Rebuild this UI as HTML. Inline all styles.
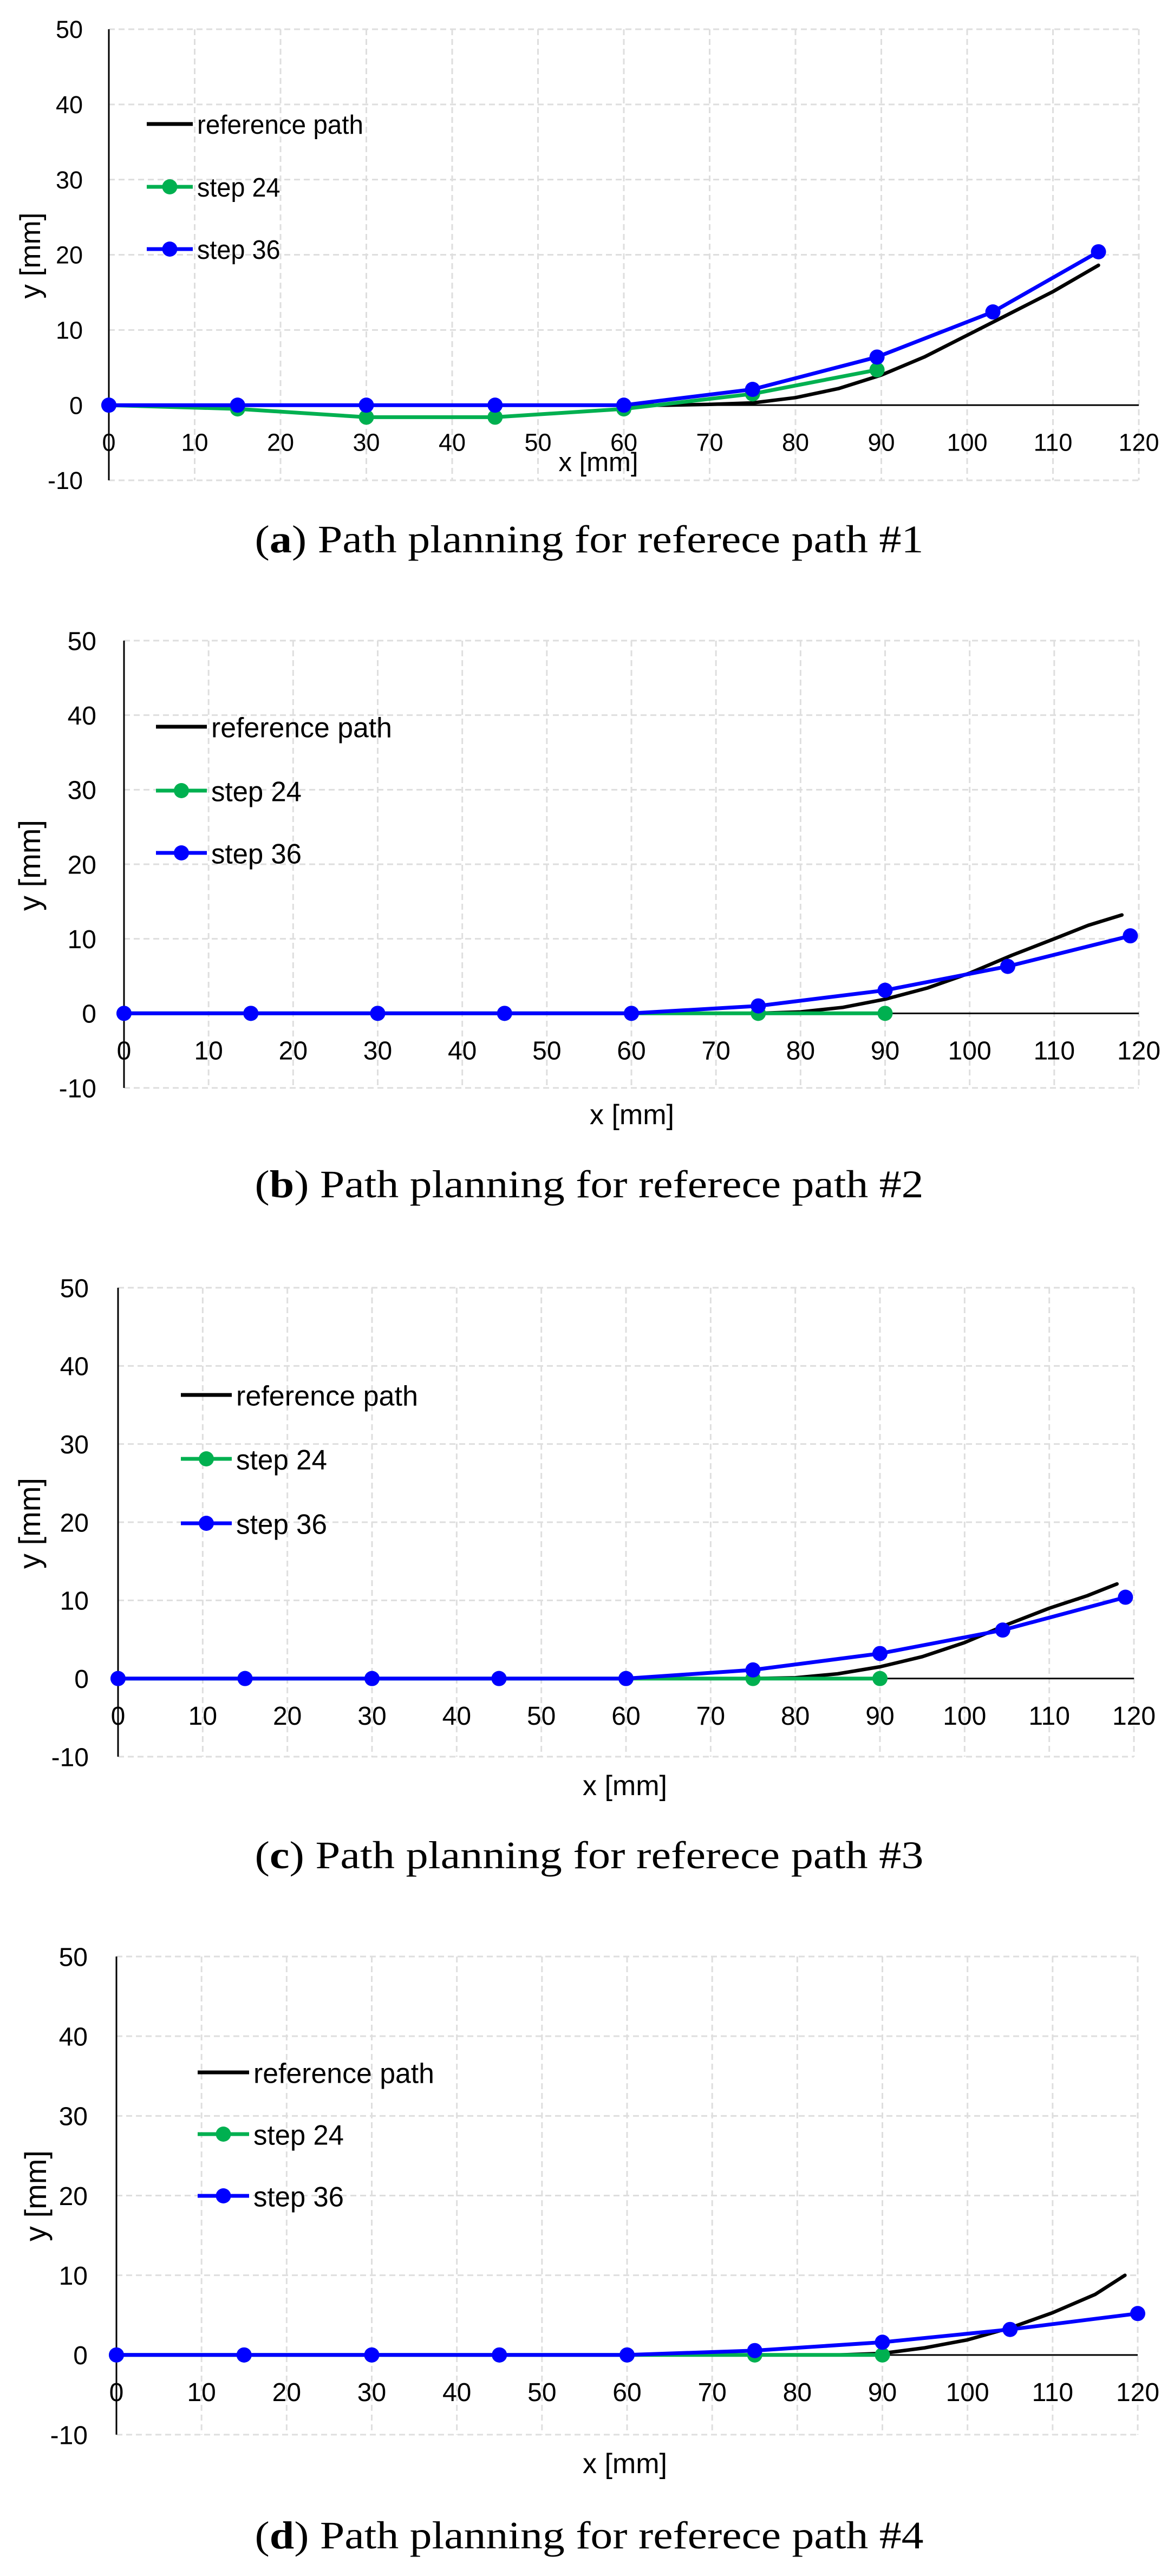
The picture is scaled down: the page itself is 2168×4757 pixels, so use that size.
<!DOCTYPE html>
<html><head><meta charset="utf-8"><style>
html,body{margin:0;padding:0;background:#fff;}
svg{display:block;}
</style></head><body>
<svg id="fig" xmlns="http://www.w3.org/2000/svg" width="2168" height="4757" viewBox="0 0 2168 4757">
<rect x="0" y="0" width="2168" height="4757" fill="#fff"/>
</svg>
<script>
// ---------- data ----------
const xTicks = [0,10,20,30,40,50,60,70,80,90,100,110,120];
const yTicks = [-10,0,10,20,30,40,50];
const seriesNames = ["reference path","step 24","step 36"];
const captionLetters = ["a","b","c","d"];
const captionTexts = [" Path planning for referece path #1"," Path planning for referece path #2"," Path planning for referece path #3"," Path planning for referece path #4"];

const refX_a = [60,65,70,75,80,85,90,95,100,105,110,115.3];
const refY_a = [0,0,0.1,0.3,1.0,2.2,4.0,6.4,9.3,12.2,15.1,18.6];
const s24X_a = [0,15,30,45,60,75,89.5];
const s24Y_a = [0,-0.5,-1.6,-1.6,-0.5,1.5,4.7];
const s36X_a = [0,15,30,45,60,75,89.5,103,115.3];
const s36Y_a = [0,0,0,0,0,2.1,6.4,12.4,20.4];

const refX_b = [60,75,80,85,90,95,100,105,110,114,118];
const refY_b = [0,0,0.2,0.8,1.9,3.4,5.4,7.8,10.0,11.8,13.2];
const s24X_b = [0,15,30,45,60,75,90];
const s24Y_b = [0,0,0,0,0,0,0];
const s36X_b = [0,15,30,45,60,75,90,104.5,119];
const s36Y_b = [0,0,0,0,0,1.0,3.1,6.3,10.4];

const refX_c = [60,75,80,85,90,95,100,105,110,114.5,118];
const refY_c = [0,0,0.1,0.6,1.5,2.8,4.6,6.9,9.0,10.6,12.1];
const s24X_c = [0,15,30,45,60,75,90];
const s24Y_c = [0,0,0,0,0,0,0];
const s36X_c = [0,15,30,45,60,75,90,104.5,119];
const s36Y_c = [0,0,0,0,0,1.1,3.2,6.2,10.4];

const refX_d = [60,85,90,95,100,105,110,115,118.5];
const refY_d = [0,0,0.2,0.9,1.9,3.4,5.3,7.6,10.0];
const s24X_d = [0,15,30,45,60,75,90];
const s24Y_d = [0,0,0,0,0,0,0];
const s36X_d = [0,15,30,45,60,75,90,105,120];
const s36Y_d = [0,0,0,0,0,0.55,1.6,3.2,5.2];

// ---------- layout (pixels) ----------
const layouts = [
 {x0:201,x1:2103,yTop:54, yBot:887, fs:45, legX:271, legText:364, legW:307, legRows:[229,345,460], xlab:[1105,870], ytitle:[56,472], tickRight:153, cap:1020},
 {x0:229,x1:2103,yTop:1183,yBot:2009,fs:48, legX:288, legText:390, legW:334, legRows:[1342,1460,1575], xlab:[1167,2076], ytitle:[56,1598], tickRight:178, cap:2211},
 {x0:218,x1:2094,yTop:2378,yBot:3244,fs:48, legX:334, legText:436, legW:336, legRows:[2576,2694,2813], xlab:[1154,3315], ytitle:[56,2813], tickRight:164, cap:3450},
 {x0:215,x1:2101,yTop:3613,yBot:4496,fs:48, legX:365, legText:468, legW:334, legRows:[3827,3941,4055], xlab:[1154,4567], ytitle:[67,4055], tickRight:162, cap:4706}
];
const dataSets = [
 [refX_a,refY_a,s24X_a,s24Y_a,s36X_a,s36Y_a],
 [refX_b,refY_b,s24X_b,s24Y_b,s36X_b,s36Y_b],
 [refX_c,refY_c,s24X_c,s24Y_c,s36X_c,s36Y_c],
 [refX_d,refY_d,s24X_d,s24Y_d,s36X_d,s36Y_d]
];
const NS = "http://www.w3.org/2000/svg";
const svg = document.getElementById("fig");
function mk(tag, attrs, parent){
  const e = document.createElementNS(NS, tag);
  for (const k in attrs) e.setAttribute(k, attrs[k]);
  (parent||svg).appendChild(e);
  return e;
}
const colors = ["#000000","#00b050","#0000ff"];

layouts.forEach((L, ci) => {
  const g = mk("g", {});
  
  
  const sx = v => L.x0 + (v - 0) / 120 * (L.x1 - L.x0);
  const sy = v => L.yBot - (v + 10) / 60 * (L.yBot - L.yTop);
  const font = '"Liberation Sans", sans-serif';
  yTicks.forEach(t => {
    if (t === 0) return;
    const l = mk("line", {x1:L.x0, x2:L.x1, y1:sy(t), y2:sy(t), stroke:"#dedede", "stroke-width":3, "stroke-dasharray":"11 7"}, g);
    
    
  });
  xTicks.forEach(t => {
    if (t === 0) return;
    const l = mk("line", {x1:sx(t), x2:sx(t), y1:L.yTop, y2:L.yBot, stroke:"#dedede", "stroke-width":3, "stroke-dasharray":"11 7"}, g);
    
    
  });
  const ax = mk("line", {x1:L.x0, x2:L.x1, y1:sy(0), y2:sy(0), stroke:"#000", "stroke-width":3}, g);
  
  
  const ay = mk("line", {x1:L.x0, x2:L.x0, y1:L.yTop, y2:L.yBot, stroke:"#000", "stroke-width":3}, g);
  
  
  yTicks.forEach(t => {
    const tx = mk("text", {x:L.tickRight, y:sy(t) + L.fs*0.36, "text-anchor":"end", "font-family":font, "font-size":L.fs, fill:"#000"}, g);
    tx.textContent = String(t);
    
    
  });
  xTicks.forEach(t => {
    const tx = mk("text", {x:sx(t), y:sy(0) + L.fs*0.36 + 68, "text-anchor":"middle", "font-family":font, "font-size":L.fs, fill:"#000"}, g);
    tx.textContent = String(t);
    
    
  });
  const xt = mk("text", {x:L.xlab[0], y:L.xlab[1], "text-anchor":"middle", "font-family":font, "font-size":L.fs+4, fill:"#000"}, g);
  xt.textContent = "x [mm]";
  
  
  const yt = mk("text", {x:0, y:0, "text-anchor":"middle", "font-family":font, "font-size":L.fs+8, fill:"#000", transform:"translate(" + (L.ytitle[0]+18) + "," + L.ytitle[1] + ") rotate(-90)"}, g);
  yt.textContent = "y [mm]";
  
  
  const D = dataSets[ci];
  [0,1,2].forEach(si => {
    const xs = D[si*2], ys = D[si*2+1];
    const pts = xs.map((x, i) => sx(x).toFixed(1) + "," + sy(ys[i]).toFixed(1)).join(" ");
    const pl = mk("polyline", {points:pts, fill:"none", stroke:colors[si], "stroke-width": si===0 ? 6.5 : 7, "stroke-linejoin":"round", "stroke-linecap":"round"}, g);
    
    
    if (si > 0) {
      xs.forEach((x, i) => {
        const c = mk("circle", {cx:sx(x), cy:sy(ys[i]), r:14, fill:colors[si]}, g);
        
        
      });
    }
  });
  seriesNames.forEach((n, si) => {
    const yy = L.legRows[si];
    const lg = mk("g", {}, g);
    
    
    mk("line", {x1:L.legX, x2:L.legText - 8, y1:yy, y2:yy, stroke:colors[si], "stroke-width":7}, lg);
    if (si > 0) mk("circle", {cx:(L.legX + L.legText - 8)/2, cy:yy, r:14, fill:colors[si]}, lg);
    const w = si === 0 ? L.legW : L.legW * 0.5;
    const tx = mk("text", {x:L.legText, y:yy + L.fs*0.36 + 2, "font-family":font, "font-size":L.fs+4, fill:"#000", textLength:w, lengthAdjust:"spacingAndGlyphs"}, lg);
    tx.textContent = n;
  });
  const cp = mk("text", {x:1088, y:L.cap, "text-anchor":"middle", "font-family":'"Liberation Serif", serif', "font-size":72, fill:"#000", textLength:1235, lengthAdjust:"spacingAndGlyphs"});
  
  
  const t1 = mk("tspan", {}, cp); t1.textContent = "(";
  const t2 = mk("tspan", {"font-weight":"bold"}, cp); t2.textContent = captionLetters[ci];
  const t3 = mk("tspan", {}, cp); t3.textContent = ")" + captionTexts[ci];
});
</script>
</body></html>
